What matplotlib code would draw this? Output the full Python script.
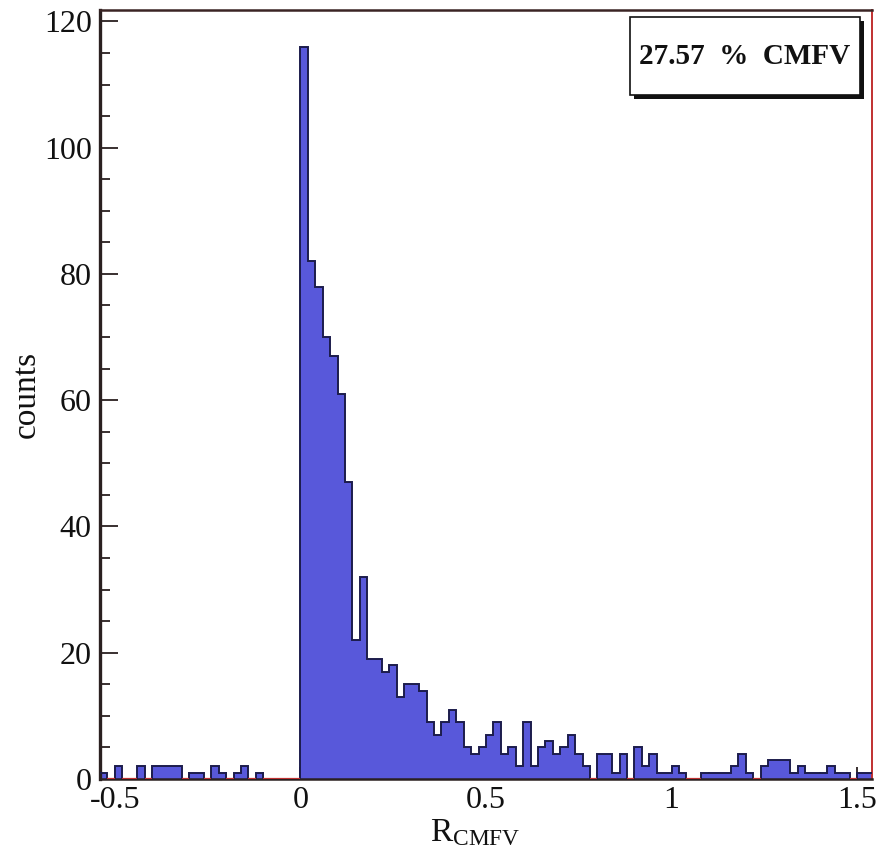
import numpy as np
import matplotlib
matplotlib.use("Agg")
import matplotlib.pyplot as plt
from matplotlib.patches import Rectangle
from matplotlib.ticker import MultipleLocator

plt.rcParams['font.family'] = ['Liberation Serif', 'DejaVu Serif']
plt.rcParams['mathtext.fontset'] = 'custom'
plt.rcParams['mathtext.rm'] = 'Liberation Serif'

# ---- data ----
bin_low = -0.54
bin_width = 0.02
counts_negative = [1, 0, 2, 0, 0, 2, 0, 2, 2, 2, 2, 0, 1, 1, 0, 2, 1, 0, 1, 2, 0, 1, 0, 0, 0, 0, 0]
counts_positive = [116, 82, 78, 70, 67, 61, 47, 22, 32, 19,
                   19, 17, 18, 13, 15, 15, 14, 9, 7, 9,
                   11, 9, 5, 4, 5, 7, 9, 4, 5, 2,
                   9, 2, 5, 6, 4, 5, 7, 4, 2, 0,
                   4, 4, 1, 4, 0, 5, 2, 4, 1, 1,
                   2, 1, 0, 0, 1, 1, 1, 1, 2, 4,
                   1, 0, 2, 3, 3, 3, 1, 2, 1, 1,
                   1, 2, 1, 1, 0, 1, 1]
xticks = [-0.5, 0, 0.5, 1, 1.5]
xtick_labels = ["-0.5", "0", "0.5", "1", "1.5"]
yticks = [0, 20, 40, 60, 80, 100, 120]
label_text = "27.57 % CMFV"
xlabel = r"$\mathregular{R_{CMFV}}$"
ylabel = "counts"

counts = np.array(counts_negative + counts_positive, dtype=float)
edges = bin_low + bin_width * np.arange(len(counts) + 1)

W, H = 878, 861
fig = plt.figure(figsize=(W / 100, H / 100), dpi=100)
ax = fig.add_axes([100 / W, 82 / H, 772 / W, 769 / H])

fill_color = '#5858DA'
edge_color = '#1c1c4c'
ax.stairs(counts, edges, fill=True, color=fill_color, linewidth=0, zorder=2)
ax.stairs(counts, edges, fill=False, baseline=None, color=edge_color, linewidth=1.4, zorder=3)
zero = counts == 0
ax.hlines(np.zeros(zero.sum()), edges[:-1][zero], edges[1:][zero], color='#c03030', linewidth=1.6, zorder=4)

ax.set_xlim(edges[0], edges[-1])
ax.set_ylim(0, counts.max() * 1.05)

ax.set_xticks(xticks)
ax.set_xticklabels(xtick_labels)
ax.set_yticks(yticks)
ax.xaxis.set_minor_locator(MultipleLocator(0.1))
ax.yaxis.set_minor_locator(MultipleLocator(5))
ax.tick_params(axis='both', which='both', direction='in', top=False, right=False,
               labelsize=23, colors='#2a2020', width=1.3)
ax.tick_params(axis='y', which='major', length=13, pad=6)
ax.tick_params(axis='y', which='minor', length=7)
ax.tick_params(axis='x', which='major', length=9, pad=5)
ax.tick_params(axis='x', which='minor', length=5)
for lab in ax.get_xticklabels() + ax.get_yticklabels():
    lab.set_color('#111111')

ax.spines['left'].set_color('#2a2020')
ax.spines['left'].set_linewidth(2.4)
ax.spines['bottom'].set_color('#2a2020')
ax.spines['bottom'].set_linewidth(1.8)
ax.spines['top'].set_color('#3a2424')
ax.spines['top'].set_linewidth(1.8)
ax.spines['right'].set_color('#c03030')
ax.spines['right'].set_linewidth(1.4)

ax.set_xlabel(xlabel, fontsize=24, color='#111111')
ax.xaxis.set_label_coords(0.486, -0.05)
ax.set_ylabel(ylabel, fontsize=24, color='#111111')
ax.yaxis.set_label_coords(-0.075, 0.5)

# label box with shadow (figure pixel coordinates)
bx0, bx1, by_top, by_bot = 630, 860, 17, 95
sh = 4
fig.patches.append(Rectangle(((bx0 + sh) / W, 1 - (by_bot + sh) / H), (bx1 - bx0) / W, (by_bot - by_top) / H,
                             transform=fig.transFigure, facecolor='#111111', edgecolor='none', zorder=10))
fig.patches.append(Rectangle((bx0 / W, 1 - by_bot / H), (bx1 - bx0) / W, (by_bot - by_top) / H,
                             transform=fig.transFigure, facecolor='white', edgecolor='#111111',
                             linewidth=1.2, zorder=11))
fig.text((bx0 + bx1) / 2 / W, 1 - (by_top + by_bot) / 2 / H, label_text.replace(" % ", "  %  "),
         ha='center', va='center', fontsize=21, fontweight='bold', color='#111111', zorder=12)

fig.savefig("out.png", dpi=100, facecolor='white')
